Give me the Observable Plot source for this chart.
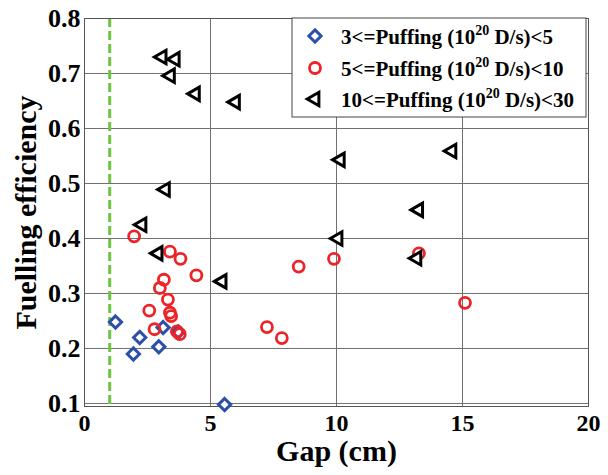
<!DOCTYPE html>
<html>
<head>
<meta charset="utf-8">
<script src="https://cdn.jsdelivr.net/npm/d3@7"></script>
<script src="https://cdn.jsdelivr.net/npm/@observablehq/plot@0.6"></script>
<style>
  body { margin: 0; background: #fff; }
  #chart svg { font-family: "Liberation Serif", "Times New Roman", serif; font-weight: bold; }
  #chart svg [aria-label="x-axis tick label"] text { font-size: 24px; fill: #000; }
  #chart svg [aria-label="y-axis tick label"] text { font-size: 26px; fill: #000; }
  #chart svg [aria-label="x-axis label"] text,
  #chart svg [aria-label="y-axis label"] text { font-size: 30px; fill: #000; }
</style>
</head>
<body>
<div id="chart"></div>
<script>
// Series 1: 3 <= Puffing < 5 (blue diamonds)
const blueX = [1.23, 1.94, 2.19, 2.95, 3.12, 3.72, 5.56];
const blueY = [0.248, 0.190, 0.220, 0.203, 0.238, 0.230, 0.098];
// Series 2: 5 <= Puffing < 10 (red circles)
const redX = [1.97, 3.39, 3.81, 4.44, 3.15, 2.99, 3.31, 2.57, 3.39, 3.44, 2.78, 3.67, 3.78, 7.24, 7.83, 8.50, 9.90, 13.27, 15.10];
const redY = [0.404, 0.376, 0.363, 0.333, 0.325, 0.310, 0.289, 0.269, 0.265, 0.259, 0.235, 0.231, 0.226, 0.239, 0.219, 0.349, 0.363, 0.373, 0.283];
// Series 3: 10 <= Puffing < 30 (black triangles)
const blackX = [3.08, 3.60, 3.41, 4.40, 5.99, 3.21, 2.28, 2.92, 5.46, 10.15, 14.58, 13.26, 10.06, 13.19];
const blackY = [0.730, 0.726, 0.696, 0.663, 0.648, 0.489, 0.425, 0.373, 0.322, 0.543, 0.559, 0.452, 0.400, 0.364];
// Reference line
const refGap = [1];
// Ticks and labels
const xTicks = [0, 5, 10, 15, 20];
const yTicks = [0.1, 0.2, 0.3, 0.4, 0.5, 0.6, 0.7, 0.8];
const legendLabels = [
  ["3<=Puffing (10", "20", " D/s)<5"],
  ["5<=Puffing (10", "20", " D/s)<10"],
  ["10<=Puffing (10", "20", " D/s)<30"]
];

const toRows = (xs, ys) => xs.map((x, i) => ({x, y: ys[i]}));
const blue = toRows(blueX, blueY);
const red = toRows(redX, redY);
const black = toRows(blackX, blackY);

const chart = Plot.plot({
  width: 608,
  height: 475,
  marginLeft: 84,
  marginRight: 20,
  marginTop: 18,
  marginBottom: 69,
  x: {domain: [0, 20]},
  y: {domain: [0.0945, 0.8]},
  marks: [
    Plot.gridX(xTicks.slice(1, -1), {stroke: "#707070", strokeOpacity: 1, strokeWidth: 1}),
    Plot.gridY(yTicks.slice(0, -1), {stroke: "#707070", strokeOpacity: 1, strokeWidth: 1}),
    Plot.ruleX(refGap, {stroke: "#6cc644", strokeWidth: 3, strokeDasharray: "9,4"}),
    Plot.axisX({ticks: xTicks, tickSize: 0, tickPadding: 7, tickFormat: d3.format("d"),
      label: "Gap (cm)", labelAnchor: "center", labelArrow: "none", labelOffset: 54}),
    Plot.axisY({ticks: yTicks, tickSize: 0, tickPadding: 4, tickFormat: d3.format(".1f"),
      label: "Fuelling efficiency", labelAnchor: "center", labelArrow: "none", labelOffset: 70}),
    Plot.frame({stroke: "#555", strokeWidth: 1}),
    Plot.dot(blue, {x: "x", y: "y", symbol: "diamond2", r: 5.5, stroke: "#2c4fa8", strokeWidth: 3, fill: "white"}),
    Plot.dot(red, {x: "x", y: "y", symbol: "circle", r: 5.5, stroke: "#ec2327", strokeWidth: 2.8, fill: "none"}),
    Plot.dot(black, {x: "x", y: "y", symbol: "triangle", rotate: -90, r: 5, stroke: "#000", strokeWidth: 3, fill: "white"})
  ]
});
document.getElementById("chart").appendChild(chart);

// Legend (drawn inside the plot area, top-right)
const svg = d3.select(chart);
const lg = svg.append("g").attr("transform", "translate(292,18)");
lg.append("rect").attr("width", 294).attr("height", 99).attr("fill", "white").attr("stroke", "#444").attr("stroke-width", 1);
const rowsY = [18, 50, 81];
const symbols = [
  {type: d3.symbolDiamond2, stroke: "#2c4fa8", rot: 0, fill: "white", sw: 3, r: 5.5},
  {type: d3.symbolCircle, stroke: "#ec2327", rot: 0, fill: "none", sw: 2.8, r: 5.5},
  {type: d3.symbolTriangle, stroke: "#000", rot: -90, fill: "white", sw: 3, r: 5}
];
legendLabels.forEach((parts, i) => {
  const s = symbols[i];
  lg.append("path")
    .attr("d", d3.symbol(s.type, Math.PI * s.r * s.r)())
    .attr("transform", `translate(23,${rowsY[i]}) rotate(${s.rot})`)
    .attr("fill", s.fill).attr("stroke", s.stroke).attr("stroke-width", s.sw);
  const t = lg.append("text").attr("x", 49).attr("y", rowsY[i] + 8)
    .attr("text-anchor", "start")
    .attr("font-size", 21).attr("font-weight", "bold").attr("fill", "#000");
  t.append("tspan").text(parts[0]);
  t.append("tspan").attr("dy", -9).attr("font-size", 14).text(parts[1]);
  t.append("tspan").attr("dy", 9).text(parts[2]);
});
</script>
</body>
</html>
